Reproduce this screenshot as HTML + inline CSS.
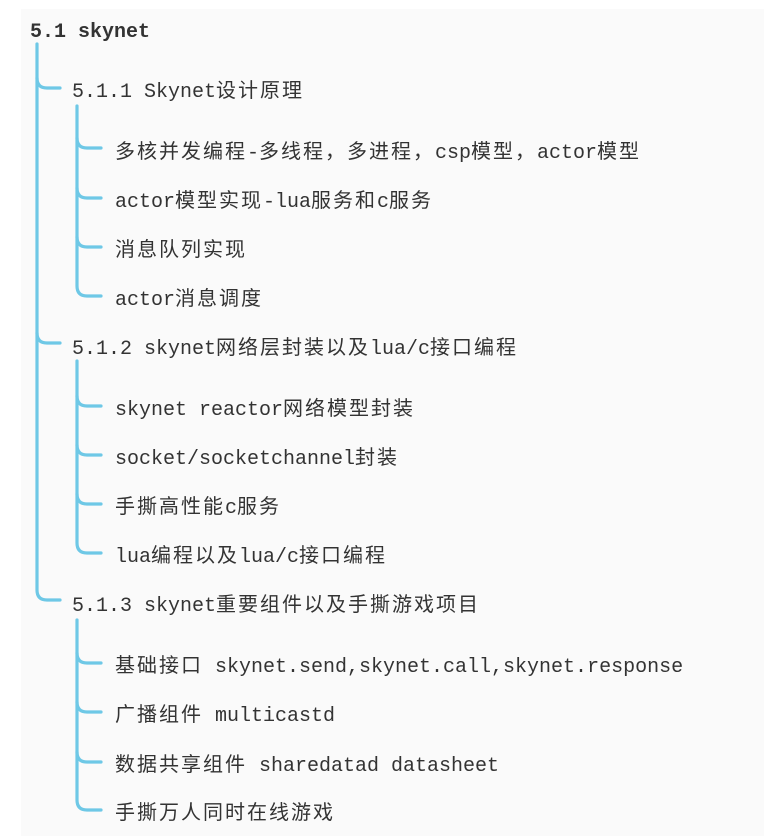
<!DOCTYPE html>
<html><head><meta charset="utf-8"><style>
body{margin:0;width:764px;height:836px;background:#fff;position:relative;overflow:hidden}
.p{position:absolute;left:21px;top:9px;width:743px;height:827px;background:#fafafa}
.t{position:absolute;white-space:nowrap;font-family:"Liberation Mono","Noto Sans CJK SC",monospace;font-size:20px;color:#333;letter-spacing:0;line-height:24px}
.t span{letter-spacing:2px}
.h{font-weight:bold}
svg{position:absolute;left:0;top:0}
</style></head><body>
<div class="p"></div>
<svg width="764" height="836" fill="none" stroke="#6ec8e6" stroke-width="3.2" stroke-linecap="round">
<path d="M37 44 V590 Q37 600 47 600 H60"/>
<path d="M37 78 Q37 88 47 88 H60"/>
<path d="M37 333 Q37 343 47 343 H60"/>
<path d="M77 106 V286 Q77 296 87 296 H101"/>
<path d="M77 138 Q77 148 87 148 H101"/>
<path d="M77 188 Q77 198 87 198 H101"/>
<path d="M77 237 Q77 247 87 247 H101"/>
<path d="M77 361 V543 Q77 553 87 553 H101"/>
<path d="M77 396 Q77 406 87 406 H101"/>
<path d="M77 445 Q77 455 87 455 H101"/>
<path d="M77 494 Q77 504 87 504 H101"/>
<path d="M77 620 V800 Q77 810 87 810 H101"/>
<path d="M77 653 Q77 663 87 663 H101"/>
<path d="M77 702 Q77 712 87 712 H101"/>
<path d="M77 752 Q77 762 87 762 H101"/>
</svg>
<div class="t h" style="left:30px;top:21px">5.1 skynet</div>
<div class="t" style="left:72px;top:81px">5.1.1 Skynet<span>设计原理</span></div>
<div class="t" style="left:115px;top:142px"><span>多核并发编程</span>-<span>多线程，多进程，</span>csp<span>模型，</span>actor<span>模型</span></div>
<div class="t" style="left:115px;top:191px">actor<span>模型实现</span>-lua<span>服务和</span>c<span>服务</span></div>
<div class="t" style="left:115px;top:240px"><span>消息队列实现</span></div>
<div class="t" style="left:115px;top:289px">actor<span>消息调度</span></div>
<div class="t" style="left:72px;top:338px">5.1.2 skynet<span>网络层封装以及</span>lua/c<span>接口编程</span></div>
<div class="t" style="left:115px;top:399px">skynet reactor<span>网络模型封装</span></div>
<div class="t" style="left:115px;top:448px">socket/socketchannel<span>封装</span></div>
<div class="t" style="left:115px;top:497px"><span>手撕高性能</span>c<span>服务</span></div>
<div class="t" style="left:115px;top:546px">lua<span>编程以及</span>lua/c<span>接口编程</span></div>
<div class="t" style="left:72px;top:595px">5.1.3 skynet<span>重要组件以及手撕游戏项目</span></div>
<div class="t" style="left:115px;top:656px"><span>基础接口</span> skynet.send,skynet.call,skynet.response</div>
<div class="t" style="left:115px;top:705px"><span>广播组件</span> multicastd</div>
<div class="t" style="left:115px;top:755px"><span>数据共享组件</span> sharedatad datasheet</div>
<div class="t" style="left:115px;top:803px"><span>手撕万人同时在线游戏</span></div>
</body></html>
